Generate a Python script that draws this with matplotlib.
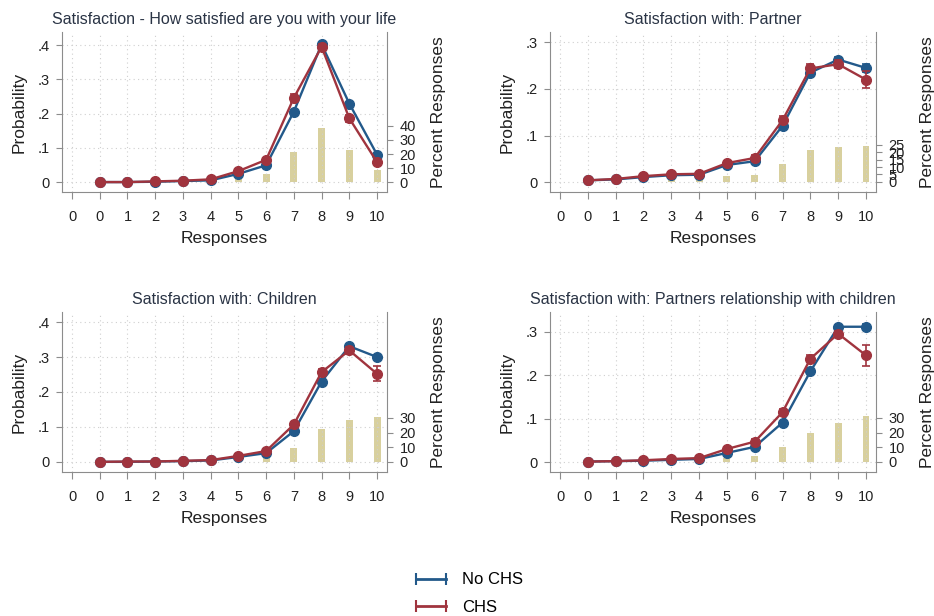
import matplotlib.pyplot as plt
from matplotlib.lines import Line2D

plt.rcParams['font.family'] = ['Liberation Sans', 'DejaVu Sans']

# responses 0..10, plus an extra "0" slot at -1 on the axis
responses = list(range(11))
xticks = [-1] + responses
xticklabels = ['0'] + [str(r) for r in responses]

titles = [
    "Satisfaction - How satisfied are you with your life",
    "Satisfaction with: Partner",
    "Satisfaction with: Children",
    "Satisfaction with: Partners relationship with children",
]

# predicted probabilities (No CHS / CHS) and 95% CI half-widths
life_nochs = [0.000, 0.000, 0.001, 0.003, 0.005, 0.024, 0.049, 0.206, 0.402, 0.229, 0.080]
life_chs = [0.000, 0.000, 0.002, 0.004, 0.008, 0.032, 0.065, 0.246, 0.395, 0.186, 0.058]
life_nochs_ci = [0, 0, 0, 0, 0.001, 0.002, 0.003, 0.004, 0.004, 0.004, 0.003]
life_chs_ci = [0, 0, 0, 0.001, 0.001, 0.003, 0.005, 0.012, 0.008, 0.011, 0.006]
life_pct = [0.1, 0.1, 0.3, 0.6, 1.0, 2.9, 5.5, 21.5, 38.8, 23.0, 8.4]

partner_nochs = [0.004, 0.006, 0.011, 0.015, 0.016, 0.037, 0.045, 0.121, 0.235, 0.263, 0.245]
partner_chs = [0.004, 0.007, 0.013, 0.017, 0.018, 0.041, 0.052, 0.133, 0.244, 0.253, 0.220]
partner_nochs_ci = [0.001, 0.001, 0.002, 0.002, 0.002, 0.003, 0.003, 0.004, 0.005, 0.006, 0.009]
partner_chs_ci = [0.002, 0.002, 0.003, 0.003, 0.003, 0.005, 0.006, 0.008, 0.009, 0.009, 0.018]
partner_pct = [0.3, 0.5, 2.0, 2.8, 2.8, 4.0, 4.8, 12.0, 21.6, 23.6, 24.5]

children_nochs = [0.000, 0.000, 0.001, 0.002, 0.004, 0.014, 0.025, 0.088, 0.230, 0.331, 0.300]
children_chs = [0.000, 0.001, 0.001, 0.003, 0.005, 0.017, 0.031, 0.107, 0.257, 0.319, 0.252]
children_nochs_ci = [0, 0, 0, 0, 0.001, 0.002, 0.003, 0.004, 0.005, 0.005, 0.007]
children_chs_ci = [0, 0, 0, 0.001, 0.001, 0.003, 0.004, 0.007, 0.010, 0.009, 0.021]
children_pct = [0.1, 0.1, 0.3, 0.5, 1.0, 2.3, 4.6, 9.7, 22.2, 28.6, 30.9]

prwc_nochs = [0.001, 0.002, 0.003, 0.005, 0.007, 0.021, 0.035, 0.091, 0.209, 0.312, 0.312]
prwc_chs = [0.001, 0.002, 0.004, 0.007, 0.009, 0.030, 0.047, 0.115, 0.238, 0.296, 0.246]
prwc_nochs_ci = [0, 0, 0.001, 0.001, 0.001, 0.002, 0.003, 0.004, 0.005, 0.005, 0.007]
prwc_chs_ci = [0, 0.001, 0.001, 0.001, 0.002, 0.003, 0.005, 0.007, 0.008, 0.007, 0.024]
prwc_pct = [0.1, 0.3, 0.5, 1.0, 1.5, 3.0, 4.2, 9.9, 19.9, 26.6, 31.6]

prob_ticks = [[0, .1, .2, .3, .4], [0, .1, .2, .3], [0, .1, .2, .3, .4], [0, .1, .2, .3]]
pct_ticks = [[0, 10, 20, 30, 40], [0, 5, 10, 15, 20, 25], [0, 10, 20, 30], [0, 10, 20, 30]]
prob_lims = [(-0.029, 0.438), (-0.021, 0.322), (-0.029, 0.429), (-0.023, 0.346)]
pct_lims = [(-7.1, 107), (-6.8, 101), (-6.8, 102), (-6.8, 102)]

panels = [
    (life_nochs, life_nochs_ci, life_chs, life_chs_ci, life_pct),
    (partner_nochs, partner_nochs_ci, partner_chs, partner_chs_ci, partner_pct),
    (children_nochs, children_nochs_ci, children_chs, children_chs_ci, children_pct),
    (prwc_nochs, prwc_nochs_ci, prwc_chs, prwc_chs_ci, prwc_pct),
]

BLUE = '#22598a'
RED = '#a0343e'
BAR = '#d8d09e'
AXC = '#8c8c8c'
TXT = '#222222'

positions = [
    (0.0664, 0.6883, 0.348, 0.2597),
    (0.5889, 0.6883, 0.349, 0.2597),
    (0.0664, 0.2338, 0.348, 0.2597),
    (0.5889, 0.2338, 0.349, 0.2597),
]


def fmt_prob(v):
    return '0' if v == 0 else f'{v:.1f}'.lstrip('0')


fig = plt.figure(figsize=(9.34, 6.16), dpi=100)
fig.patch.set_facecolor('white')

for i, (nochs, nochs_ci, chs, chs_ci, pct) in enumerate(panels):
    ax = fig.add_axes(positions[i])
    ax2 = ax.twinx()
    ax.set_zorder(ax2.get_zorder() + 1)
    ax.patch.set_visible(False)

    # response distribution on the right axis
    ax2.bar(responses, pct, width=0.25, color=BAR, zorder=1)
    ax2.set_ylim(*pct_lims[i])
    ax2.set_yticks(pct_ticks[i])
    ax2.set_ylabel('Percent Responses', fontsize=12.5, color=TXT, labelpad=11)

    ax.errorbar(responses, nochs, yerr=nochs_ci, color=BLUE, lw=1.7, marker='o',
                ms=7, capsize=3, elinewidth=1.2, capthick=1.2, zorder=3)
    ax.errorbar(responses, chs, yerr=chs_ci, color=RED, lw=1.7, marker='o',
                ms=7, capsize=3, elinewidth=1.2, capthick=1.2, zorder=4)

    ax.set_xlim(-1.36, 10.36)
    ax.set_ylim(*prob_lims[i])
    ax.set_xticks(xticks)
    ax.set_xticklabels(xticklabels)
    ax.set_yticks(prob_ticks[i])
    ax.set_yticklabels([fmt_prob(v) for v in prob_ticks[i]])
    ax.grid(True, color='#cfcfcf', lw=0.8, linestyle=(0, (1, 3)))
    ax.set_axisbelow(True)

    ax.set_title(titles[i], fontsize=11.5, color='#2a3445', pad=6)
    ax.set_xlabel('Responses', fontsize=12.5, color=TXT, labelpad=5)
    ax.set_ylabel('Probability', fontsize=12.5, color=TXT, labelpad=8)

    for a in (ax, ax2):
        a.spines['top'].set_visible(False)
        a.tick_params(colors=AXC, labelcolor=TXT, labelsize=10.5, length=4, width=0.8)
    ax.tick_params(axis='x', length=5, pad=8)
    ax.tick_params(axis='y', pad=5)
    ax2.tick_params(axis='y', pad=5)
    ax.spines['right'].set_visible(False)
    ax2.spines['left'].set_visible(False)
    ax2.spines['bottom'].set_visible(False)
    for s in ('left', 'bottom'):
        ax.spines[s].set_color(AXC)
    ax2.spines['right'].set_color(AXC)

handles = [
    Line2D([], [], color=BLUE, lw=2, marker='|', ms=8, mew=1.5),
    Line2D([], [], color=RED, lw=2, marker='|', ms=8, mew=1.5),
]
fig.legend(handles, ['No CHS', 'CHS'], loc='upper center', bbox_to_anchor=(0.5, 0.095),
           frameon=False, numpoints=2, fontsize=12, handlelength=2.4,
           labelspacing=0.75, handletextpad=0.7)

fig.savefig('out.png', dpi=100, facecolor='white')
